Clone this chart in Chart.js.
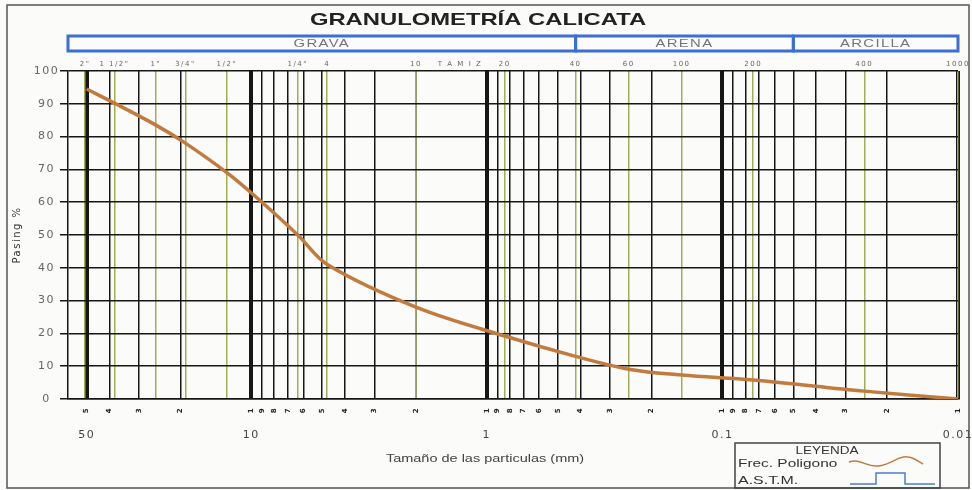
<!DOCTYPE html>
<html>
<head>
<meta charset="utf-8">
<script src="https://cdn.jsdelivr.net/npm/chart.js@4.4.0/dist/chart.umd.min.js"></script>
<style>
  html, body { margin: 0; padding: 0; background: #fbfbf9; }
  #wrap { position: relative; width: 972px; height: 490px; }
</style>
</head>
<body>
<div id="wrap"><canvas id="granChart" width="972" height="490"></canvas></div>
<script>
// particle size (mm) and % passing
const sizes = [50, 38.1, 25.4, 19.05, 12.7, 9.525, 6.35, 4.76, 2.0, 0.84, 0.42, 0.25, 0.149, 0.074, 0.025, 0.01];
const passing = [94.5, 90.2, 83.5, 78, 69, 61.5, 50, 41, 28, 19.2, 13, 9.1, 7.3, 5.8, 2.4, 0];

// sieve marks along the top
const sieveSizes = [50.8, 38.1, 25.4, 19.05, 12.7, 6.35, 4.76, 2.0, 1.3, 0.84, 0.42, 0.25, 0.149, 0.074, 0.025, 0.01];
const sieveLabels = ['2"', '1 1/2"', '1"', '3/4"', '1/2"', '1/4"', '4', '10', 'T A M I Z', '20', '40', '60', '100', '200', '400', '1000'];

// log grid lines and the labelled sizes
const gridSizes = [50, 40, 30, 20,
  10, 9, 8, 7, 6, 5, 4, 3, 2,
  1, 0.9, 0.8, 0.7, 0.6, 0.5, 0.4, 0.3, 0.2,
  0.1, 0.09, 0.08, 0.07, 0.06, 0.05, 0.04, 0.03, 0.02, 0.01];
const sizeTicks = [50, 10, 1, 0.1, 0.01];
const sizeTickLabels = ['50', '10', '1', '0.1', '0.01'];

// soil classes shown in the header band
const zoneNames = ['GRAVA', 'ARENA', 'ARCILLA'];
const zoneLimits = [60, 0.42, 0.05, 0.01];

const isBold = v => sizeTicks.some(t => Math.abs(t - v) < t * 1e-6);
const leadDigit = v => String(Math.round(v / Math.pow(10, Math.floor(Math.log10(v) + 1e-9))));

function stretchText(ctx, text, x, y, font, color, sx, align) {
  ctx.save();
  ctx.translate(x, y);
  ctx.scale(sx, 1);
  ctx.font = font;
  ctx.fillStyle = color;
  ctx.textAlign = align;
  ctx.textBaseline = 'middle';
  ctx.fillText(text, 0, 0);
  ctx.restore();
}

const decor = {
  id: 'decor',
  beforeDraw(chart) {
    const ctx = chart.ctx;
    ctx.save();
    ctx.fillStyle = '#fbfbf9';
    ctx.fillRect(0, 0, chart.width, chart.height);
    ctx.restore();
    ctx.letterSpacing = '1.5px';
  },
  afterDraw(chart) {
    const ctx = chart.ctx;
    const xScale = chart.scales.x;
    ctx.save();
    ctx.letterSpacing = '0px';

    // outer frame
    ctx.strokeStyle = '#555';
    ctx.lineWidth = 1.5;
    ctx.strokeRect(7, 5, 962, 483);

    stretchText(ctx, 'GRANULOMETRÍA CALICATA', 478, 20, 'bold 17px "Liberation Sans", Arial', '#222', 1.4, 'center');

    // header band
    ctx.strokeStyle = '#3b6fd4';
    ctx.lineWidth = 3;
    zoneNames.forEach((name, i) => {
      const x0 = xScale.getPixelForValue(zoneLimits[i]);
      const x1 = xScale.getPixelForValue(zoneLimits[i + 1]);
      ctx.strokeRect(x0, 36, x1 - x0, 15);
      ctx.letterSpacing = '1px';
      stretchText(ctx, name, (x0 + x1) / 2, 44, '11px "Liberation Sans", Arial', '#77737d', 1.35, 'center');
      ctx.letterSpacing = '0px';
    });

    // axis title under the size labels
    stretchText(ctx, 'Tamaño de las particulas (mm)', 485, 459, '10px "Liberation Sans", Arial', '#444', 1.45, 'center');

    // legend box
    ctx.strokeStyle = '#444';
    ctx.lineWidth = 1.5;
    ctx.strokeRect(735, 443, 205, 45);
    stretchText(ctx, 'LEYENDA', 827, 451, '10px "Liberation Sans", Arial', '#333', 1.35, 'center');
    stretchText(ctx, 'Frec. Poligono', 738, 464, '11px "Liberation Sans", Arial', '#333', 1.4, 'left');
    stretchText(ctx, 'A.S.T.M.', 738, 481, '11px "Liberation Sans", Arial', '#333', 1.45, 'left');

    ctx.strokeStyle = '#c27b3e';
    ctx.lineWidth = 1.5;
    ctx.beginPath();
    ctx.moveTo(849, 462);
    ctx.bezierCurveTo(860, 458, 866, 467, 878, 466);
    ctx.bezierCurveTo(892, 465, 898, 455, 908, 457);
    ctx.bezierCurveTo(915, 458, 919, 462, 923, 464);
    ctx.stroke();

    ctx.strokeStyle = '#4a7fd0';
    ctx.lineWidth = 1.5;
    ctx.beginPath();
    ctx.moveTo(850, 484);
    ctx.lineTo(876, 484);
    ctx.lineTo(876, 473);
    ctx.lineTo(905, 473);
    ctx.lineTo(905, 484);
    ctx.lineTo(935, 484);
    ctx.stroke();

    ctx.restore();
  }
};

Chart.defaults.font.family = '"DejaVu Sans", "Liberation Sans", sans-serif';
Chart.defaults.color = '#444';

const logAxis = {
  type: 'logarithmic',
  reverse: true,
  min: 0.01,
  max: 60
};

const ctx = document.getElementById('granChart').getContext('2d');
new Chart(ctx, {
  type: 'line',
  data: {
    datasets: [{
      label: 'Frec. Poligono',
      data: sizes.map((s, i) => ({ x: s, y: passing[i] })),
      xAxisID: 'x',
      yAxisID: 'y',
      borderColor: '#c27b3e',
      borderWidth: 3.5,
      pointRadius: 0,
      tension: 0.35,
      fill: false
    }]
  },
  options: {
    responsive: false,
    animation: false,
    events: [],
    layout: { padding: { top: 52, right: 14, bottom: 0, left: 0 } },
    plugins: {
      legend: { display: false },
      tooltip: { enabled: false }
    },
    scales: {
      x: {
        ...logAxis,
        position: 'bottom',
        afterBuildTicks: s => { s.ticks = gridSizes.map(v => ({ value: v })); },
        afterFit: s => { s.height = 20; s.paddingLeft = 0; s.paddingRight = 0; },
        grid: {
          color: '#161616',
          lineWidth: c => (c.tick && isBold(c.tick.value)) ? 4 : 1.5,
          drawTicks: false
        },
        border: { color: '#161616', width: 1.5 },
        ticks: {
          autoSkip: false,
          minRotation: 90,
          maxRotation: 90,
          padding: 8,
          color: '#222',
          font: { size: 7, weight: 'bold' },
          callback: v => leadDigit(v)
        }
      },
      xl: {
        ...logAxis,
        position: 'bottom',
        afterBuildTicks: s => { s.ticks = sizeTicks.map(v => ({ value: v })); },
        afterFit: s => { s.height = 71; s.paddingLeft = 0; s.paddingRight = 0; },
        grid: { display: false },
        border: { display: false },
        ticks: {
          autoSkip: false,
          maxRotation: 0,
          padding: 2,
          color: '#444',
          font: { size: 11 },
          callback: (v, i) => sizeTickLabels[i]
        }
      },
      xs: {
        ...logAxis,
        position: 'top',
        afterBuildTicks: s => { s.ticks = sieveSizes.map(v => ({ value: v })); },
        afterFit: s => { s.height = 19; s.paddingLeft = 0; s.paddingRight = 0; },
        grid: {
          color: c => sieveLabels[c.index] === 'T A M I Z' ? 'rgba(0,0,0,0)' : '#a3ad55',
          lineWidth: 1.5,
          drawTicks: false
        },
        border: { display: false },
        ticks: {
          autoSkip: false,
          maxRotation: 0,
          padding: 3,
          color: '#666',
          font: { size: 7 },
          callback: (v, i) => sieveLabels[i]
        }
      },
      y: {
        min: 0,
        max: 100,
        afterFit: s => { s.width = 68; s.paddingTop = 0; s.paddingBottom = 0; },
        grid: { color: '#161616', lineWidth: 1.5, tickLength: 8 },
        border: { color: '#161616', width: 1.5 },
        ticks: {
          stepSize: 10,
          padding: 3,
          crossAlign: 'center',
          color: '#666',
          font: { size: 11 }
        },
        title: {
          display: true,
          text: 'Pasing %',
          color: '#333',
          font: { size: 10 },
          padding: { top: 11 }
        }
      }
    }
  },
  plugins: [decor]
});
</script>
</body>
</html>
